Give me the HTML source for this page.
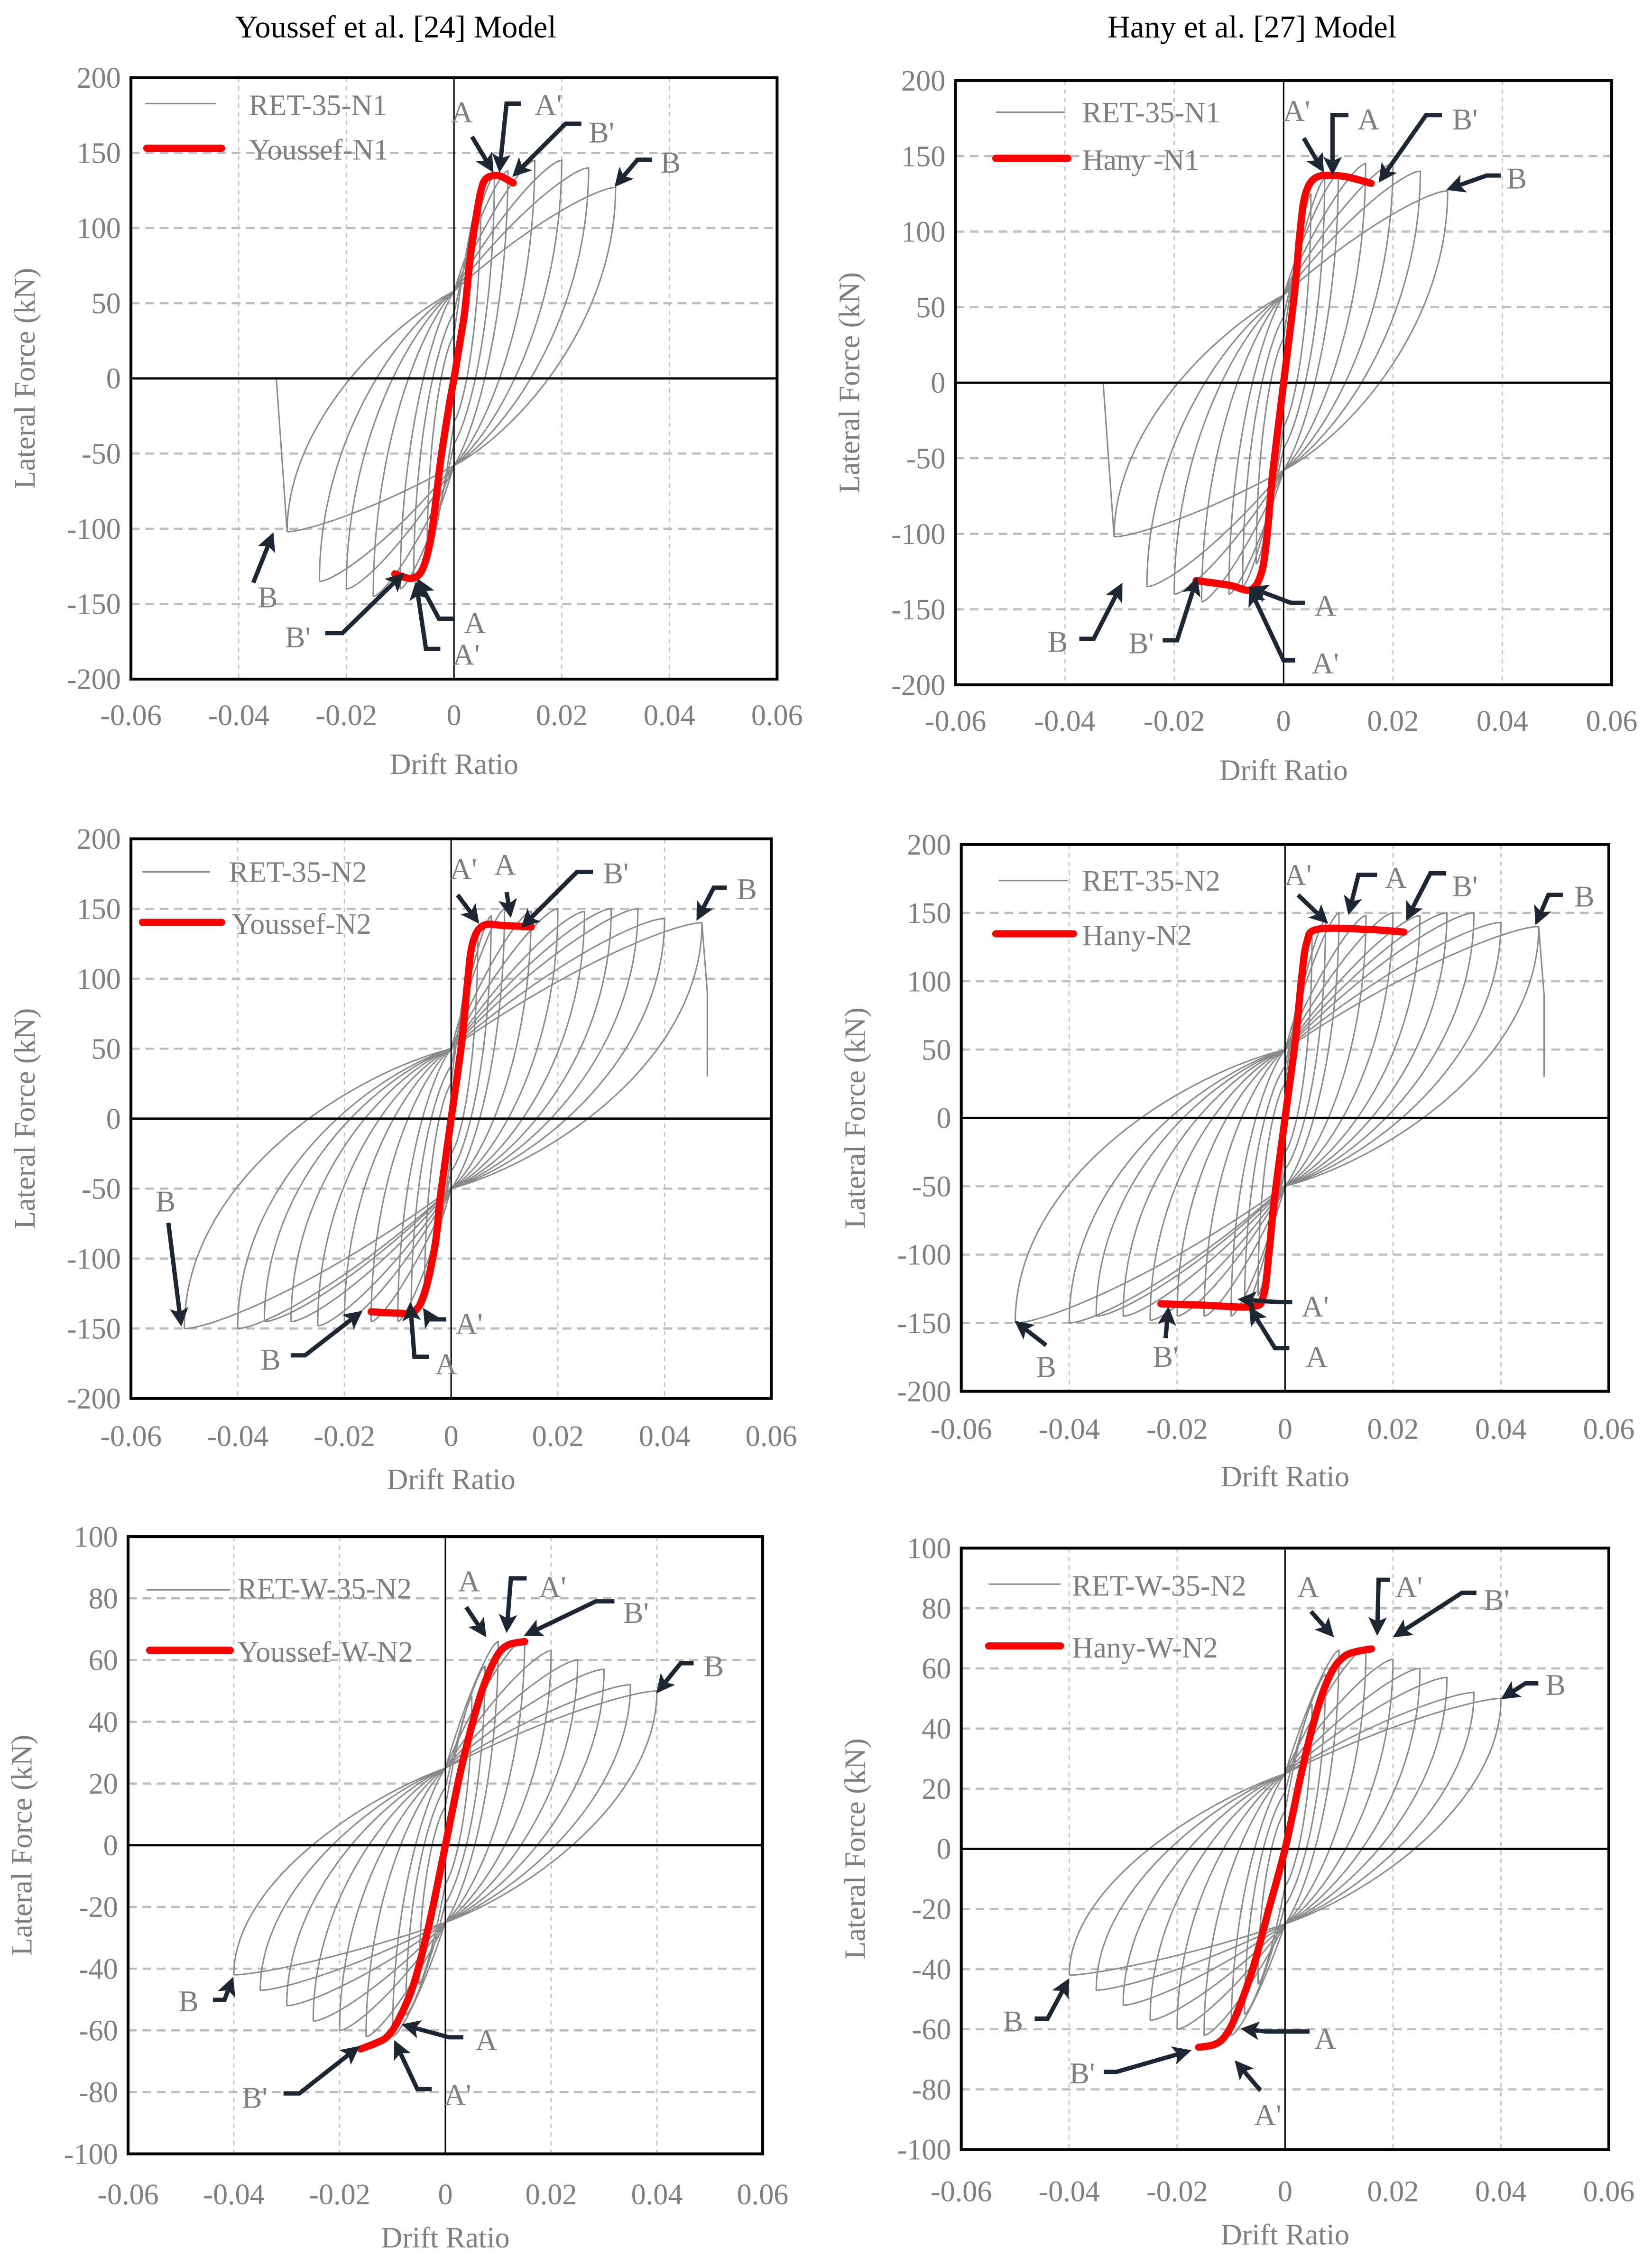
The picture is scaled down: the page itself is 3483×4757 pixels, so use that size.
<!DOCTYPE html>
<html><head><meta charset="utf-8">
<style>
html,body{margin:0;padding:0;background:#fff;}
svg{display:block;}
text{font-family:"Liberation Serif",serif;}
</style></head>
<body>
<svg id="fig" width="3483" height="4757" viewBox="0 0 1148 1568" preserveAspectRatio="none" xmlns="http://www.w3.org/2000/svg">
<text x="275" y="26" font-size="22" text-anchor="middle" fill="#000">Youssef et al. [24] Model</text>
<text x="870" y="26" font-size="22" text-anchor="middle" fill="#000">Hany et al. [27] Model</text>
</svg>
<script>
// ---------- data ----------
const n1PosDrift=[0.005,0.0075,0.01,0.015,0.02,0.025,0.03];
const n1PosForce=[125,135,138,145,145,140,127];
const n1NegDrift=[-0.005,-0.0075,-0.01,-0.015,-0.02,-0.025,-0.031];
const n1NegForce=[-120,-135,-140,-145,-140,-135,-102];
const n1TailDrift=[-0.031,-0.033];
const n1TailForce=[-102,0];
const n2PosDrift=[0.005,0.0075,0.01,0.015,0.02,0.025,0.03,0.035,0.04,0.047];
const n2PosForce=[135,145,150,148,150,148,150,150,143,140];
const n2NegDrift=[-0.005,-0.0075,-0.01,-0.015,-0.02,-0.025,-0.03,-0.035,-0.04,-0.05];
const n2NegForce=[-130,-140,-145,-145,-145,-148,-145,-145,-150,-150];
const n2TailDrift=[0.047,0.048,0.048];
const n2TailForce=[140,90,30];
const wPosDrift=[0.005,0.0075,0.01,0.015,0.02,0.025,0.03,0.035,0.04];
const wPosForce=[48,58,66,67,63,60,57,52,50];
const wNegDrift=[-0.005,-0.0075,-0.01,-0.015,-0.02,-0.025,-0.03,-0.035,-0.04];
const wNegForce=[-45,-55,-62,-62,-60,-57,-52,-47,-42];
const youssefN1Drift=[-0.011,-0.008,-0.006,-0.0045,-0.0035,-0.0025,-0.001,0,0.001,0.002,0.003,0.004,0.005,0.006,0.008,0.0095,0.011];
const youssefN1Force=[-130,-133,-128,-110,-85,-55,-20,0,22,45,80,105,125,133,135,133,130];
const hanyN1Drift=[-0.016,-0.01,-0.006,-0.004,-0.003,-0.002,0,0.002,0.003,0.004,0.006,0.01,0.013,0.016];
const hanyN1Force=[-131,-134,-137,-125,-100,-60,0,60,100,125,136,137,135,132];
const youssefN2Drift=[-0.015,-0.01,-0.007,-0.005,-0.003,-0.002,0,0.002,0.003,0.004,0.006,0.01,0.015];
const youssefN2Force=[-138,-139,-138,-125,-90,-55,0,55,95,125,138,138,137];
const hanyN2Drift=[-0.023,-0.015,-0.006,-0.004,-0.003,-0.002,0,0.002,0.003,0.004,0.006,0.015,0.022];
const hanyN2Force=[-136,-137,-138,-130,-100,-60,0,60,100,128,138,138,136];
const youssefWDrift=[-0.016,-0.013,-0.011,-0.009,-0.006,-0.003,0,0.003,0.006,0.008,0.01,0.012,0.015];
const youssefWForce=[-66,-64,-62,-57,-45,-25,0,25,45,55,62,65,66];
const hanyWDrift=[-0.016,-0.013,-0.011,-0.009,-0.006,-0.003,0,0.003,0.005,0.007,0.009,0.011,0.013,0.016];
const hanyWForce=[-66,-65,-62,-55,-40,-20,0,25,40,52,60,64,65.5,66.5];
const xTicks=[-0.06,-0.04,-0.02,0,0.02,0.04,0.06];
const yTicksN=[-200,-150,-100,-50,0,50,100,150,200];
const yTicksW=[-100,-80,-60,-40,-20,0,20,40,60,80,100];

const NS='http://www.w3.org/2000/svg';
const svg=document.getElementById('fig');
function mk(tag,attrs,parent){const e=document.createElementNS(NS,tag);for(const k in attrs)e.setAttribute(k,attrs[k]);(parent||svg).appendChild(e);return e;}
function smooth(pts){
  let d=`M${pts[0][0]},${pts[0][1]}`;
  for(let i=0;i<pts.length-1;i++){
    const p0=pts[Math.max(0,i-1)],p1=pts[i],p2=pts[i+1],p3=pts[Math.min(pts.length-1,i+2)];
    const c1=[p1[0]+(p2[0]-p0[0])/6,p1[1]+(p2[1]-p0[1])/6];
    const c2=[p2[0]-(p3[0]-p1[0])/6,p2[1]-(p3[1]-p1[1])/6];
    d+=` C${c1[0]},${c1[1]} ${c2[0]},${c2[1]} ${p2[0]},${p2[1]}`;
  }
  return d;
}

const panels=[
 {id:'p1',L:91,R:540,T:54,B:472,ymin:-200,ymax:200,yt:yTicksN,xlab:497,xtitle:531,
  pd:n1PosDrift,pf:n1PosForce,nd:n1NegDrift,nf:n1NegForce,pinch:58,td:n1TailDrift,tf:n1TailForce,
  md:youssefN1Drift,mf:youssefN1Force,g:'RET-35-N1',m:'Youssef-N1',
  lg:[101,150,72,173,79, 102,154,103,173,110],
  ann:[['A',321,78,[[328,95],[343,120]]],["A'",381,73,[[362,72],[352,72],[347,120]]],["B'",418,92,[[404,86],[393,86],[356,123]]],['B',466,113,[[453,111],[443,111],[427,130]]],
   ['B',186,415,[[176,405],[190,370]]],["B'",207,443,[[226,440],[238,440],[281,398]]],['A',330,433,[[316,430],[305,430],[290,402]]],["A'",324,455,[[306,451],[296,451],[289,404]]]]},
 {id:'p2',L:664,R:1120,T:56,B:476,ymin:-200,ymax:200,yt:yTicksN,xlab:501,xtitle:535,
  pd:n1PosDrift,pf:n1PosForce,nd:n1NegDrift,nf:n1NegForce,pinch:58,td:n1TailDrift,tf:n1TailForce,
  md:hanyN1Drift,mf:hanyN1Force,g:'RET-35-N1',m:'Hany -N1',
  lg:[692,740,78,752,84, 692,742,110,752,117],
  ann:[["A'",901,77,[[906,96],[920,120]]],['A',951,83,[[937,80],[926,80],[926,122]]],["B'",1018,83,[[1002,80],[991,80],[958,127]]],['B',1054,124,[[1043,122],[1033,122],[1005,132]]],
   ['B',735,446,[[750,444],[760,444],[780,405]]],["B'",793,447,[[808,445],[818,445],[832,401]]],['A',921,421,[[907,419],[897,419],[868,408]]],["A'",921,461,[[900,459],[892,459],[868,408]]]]},
 {id:'p3',L:91,R:536,T:583,B:972,ymin:-200,ymax:200,yt:yTicksN,xlab:998,xtitle:1028,
  pd:n2PosDrift,pf:n2PosForce,nd:n2NegDrift,nf:n2NegForce,pinch:50,td:n2TailDrift,tf:n2TailForce,
  md:youssefN2Drift,mf:youssefN2Force,g:'RET-35-N2',m:'Youssef-N2',
  lg:[99,146,606,159,612, 99,154,641,161,648],
  ann:[["A'",322,604,[[318,622],[333,642]]],['A',351,601,[[352,620],[355,638]]],["B'",428,607,[[412,606],[401,606],[362,645]]],['B',519,618,[[505,617],[496,617],[484,640]]],
   ['B',115,835,[[117,850],[126,922]]],['B',188,945,[[202,942],[212,942],[252,911]]],['A',310,948,[[298,943],[288,943],[285,905]]],["A'",326,920,[[310,917],[299,917],[294,909]]]]},
 {id:'p4',L:668,R:1118,T:587,B:967,ymin:-200,ymax:200,yt:yTicksN,xlab:993,xtitle:1026,
  pd:n2PosDrift,pf:n2PosForce,nd:n2NegDrift,nf:n2NegForce,pinch:50,td:n2TailDrift,tf:n2TailForce,
  md:hanyN2Drift,mf:hanyN2Force,g:'RET-35-N2',m:'Hany-N2',
  lg:[694,742,612,752,618, 692,746,649,752,656],
  ann:[["A'",902,608,[[902,622],[923,642]]],['A',970,610,[[957,608],[944,608],[937,636]]],["B'",1018,616,[[1005,607],[994,607],[977,640]]],['B',1101,623,[[1086,622],[1076,622],[1067,643]]],
   ['B',727,950,[[727,935],[705,918]]],["B'",810,943,[[810,930],[812,908]]],['A',915,943,[[896,937],[886,937],[868,908]]],["A'",914,908,[[898,905],[888,905],[860,903]]]]},
 {id:'p5',L:89,R:530,T:1068,B:1497,ymin:-100,ymax:100,yt:yTicksW,xlab:1525,xtitle:1555,
  pd:wPosDrift,pf:wPosForce,nd:wNegDrift,nf:wNegForce,pinch:25,td:null,tf:null,
  md:youssefWDrift,mf:youssefWForce,g:'RET-W-35-N2',m:'Youssef-W-N2',
  lg:[102,160,1105,165,1110, 104,160,1147,165,1154],
  ann:[['A',326,1099,[[324,1117],[338,1138]]],["A'",384,1103,[[366,1097],[355,1097],[352,1135]]],["B'",442,1121,[[427,1113],[414,1113],[364,1137]]],['B',496,1158,[[482,1156],[473,1156],[456,1177]]],
   ['B',131,1391,[[148,1390],[156,1390],[162,1374]]],["B'",177,1458,[[197,1455],[208,1455],[250,1422]]],['A',338,1418,[[322,1416],[312,1416],[279,1407]]],["A'",318,1456,[[300,1452],[290,1452],[274,1418]]]]},
 {id:'p6',L:668,R:1118,T:1076,B:1494,ymin:-100,ymax:100,yt:yTicksW,xlab:1523,xtitle:1553,
  pd:wPosDrift,pf:wPosForce,nd:wNegDrift,nf:wNegForce,pinch:25,td:null,tf:null,
  md:hanyWDrift,mf:hanyWForce,g:'RET-W-35-N2',m:'Hany-W-N2',
  lg:[687,737,1101,745,1108, 687,737,1144,745,1151],
  ann:[['A',909,1103,[[911,1120],[927,1138]]],["A'",979,1103,[[966,1098],[958,1098],[957,1137]]],["B'",1040,1112,[[1026,1107],[1016,1107],[968,1138]]],['B',1081,1171,[[1069,1170],[1060,1170],[1043,1181]]],
   ['B',704,1405,[[719,1403],[728,1403],[743,1375]]],["B'",752,1441,[[767,1440],[776,1440],[828,1425]]],['A',921,1417,[[910,1412],[880,1412],[862,1410]]],["A'",881,1470,[[876,1453],[858,1432]]]]}
];

panels.forEach(p=>{
  const sx=d=>p.L+(d+0.06)/0.12*(p.R-p.L);
  const sy=f=>p.B-(f-p.ymin)/(p.ymax-p.ymin)*(p.B-p.T);
  const g=mk('g',{});
  
  
  xTicks.forEach(t=>{if(t===0||Math.abs(t)===0.06)return;
    const l=mk('line',{x1:sx(t),x2:sx(t),y1:p.T,y2:p.B,stroke:'#c4c4c4','stroke-width':0.9,'stroke-dasharray':'3,3'},g);
    });
  p.yt.forEach(t=>{if(t===0||t===p.ymin||t===p.ymax)return;
    const l=mk('line',{x1:p.L,x2:p.R,y1:sy(t),y2:sy(t),stroke:'#bdbdbd','stroke-width':1.5,'stroke-dasharray':'6,4'},g);
    });
  xTicks.forEach(t=>{const e=mk('text',{x:sx(t),y:p.xlab+7,'font-size':20.5,fill:'#7f7f7f','text-anchor':'middle'},g);e.textContent=t===0?'0':String(t);
    });
  p.yt.forEach(t=>{const e=mk('text',{x:p.L-7,y:sy(t)+7,'font-size':20.5,fill:'#7f7f7f','text-anchor':'end'},g);e.textContent=String(t);
    });
  const xt=mk('text',{x:(p.L+p.R)/2,y:p.xtitle+7,'font-size':20.5,fill:'#7f7f7f','text-anchor':'middle'},g);xt.textContent='Drift Ratio';
  
  const yc=(p.T+p.B)/2,yx=p.L-67;
  const yt=mk('text',{x:yx,y:yc,'font-size':20.5,fill:'#7f7f7f','text-anchor':'middle',transform:`rotate(-90 ${yx} ${yc})`},g);yt.textContent='Lateral Force (kN)';
  
  let dstr='';
  const P=p.pinch;
  for(let i=0;i<p.pd.length;i++){
    const dp=p.pd[i],fp=p.pf[i],dn=p.nd[i],fn=p.nf[i];
    const pi=P*Math.min(1,(i+2)/4);
    dstr+=`M${sx(dn)},${sy(fn)} C${sx(dn)},${sy(fn*0.3)} ${sx(dn*0.4)},${sy(pi*0.6)} ${sx(0)},${sy(pi)} `+
          `C${sx(dp*0.5)},${sy(pi+(fp-pi)*0.7)} ${sx(dp*0.9)},${sy(fp)} ${sx(dp)},${sy(fp)} `+
          `C${sx(dp)},${sy(fp*0.3)} ${sx(dp*0.4)},${sy(-pi*0.6)} ${sx(0)},${sy(-pi)} `+
          `C${sx(dn*0.5)},${sy(-pi+(fn+pi)*0.7)} ${sx(dn*0.9)},${sy(fn)} ${sx(dn)},${sy(fn)} `;
  }
  if(p.td){dstr+='M'+p.td.map((d,i)=>sx(d)+','+sy(p.tf[i])).join(' L');}
  const loops=mk('path',{d:dstr,fill:'none',stroke:'#8a8a8a','stroke-width':1},g);
  
  const zx=mk('line',{x1:sx(0),x2:sx(0),y1:p.T,y2:p.B,stroke:'#000','stroke-width':1},g);
  
  const zy=mk('line',{x1:p.L,x2:p.R,y1:sy(0),y2:sy(0),stroke:'#000','stroke-width':1.6},g);
  
  const box=mk('rect',{x:p.L,y:p.T,width:p.R-p.L,height:p.B-p.T,fill:'none',stroke:'#000','stroke-width':2},g);
  
  const mpts=p.md.map((d,i)=>[sx(d),sy(p.mf[i])]);
  const mc=mk('path',{d:smooth(mpts),fill:'none',stroke:'#ff0000','stroke-width':5,'stroke-linejoin':'round','stroke-linecap':'round'},g);
  
  const q=p.lg;
  const lg=mk('g',{},g);
  mk('line',{x1:q[0],x2:q[1],y1:q[2],y2:q[2],stroke:'#8a8a8a','stroke-width':1},lg);
  const t1=mk('text',{x:q[3],y:q[4]+1,'font-size':20.5,fill:'#7f7f7f'},lg);t1.textContent=p.g;
  
  mk('line',{x1:q[5],x2:q[6],y1:q[7],y2:q[7],stroke:'#ff0000','stroke-width':5,'stroke-linecap':'round'},lg);
  const t2=mk('text',{x:q[8],y:q[9]+1,'font-size':20.5,fill:'#7f7f7f'},lg);t2.textContent=p.m;
  
  p.ann.forEach(a=>{
    const ag=mk('g',{},g);
    const tx=mk('text',{x:a[1],y:a[2]+7,'font-size':21,fill:'#7f7f7f','text-anchor':'middle'},ag);tx.textContent=a[0];
    const pts=a[3];const n=pts.length;
    const [x1,y1]=pts[n-2],[x2,y2]=pts[n-1];
    const ang=Math.atan2(y2-y1,x2-x1),hl=13,hw=6.5;
    const bx=x2-hl*Math.cos(ang),by=y2-hl*Math.sin(ang);
    const linePts=pts.slice(0,n-1).map(s=>s.join(',')).join(' ')+' '+(bx+3*Math.cos(ang))+','+(by+3*Math.sin(ang));
    mk('polyline',{points:linePts,fill:'none',stroke:'#1c2733','stroke-width':3},ag);
    const h=`${x2},${y2} ${bx-hw*Math.sin(ang)},${by+hw*Math.cos(ang)} ${bx+3*Math.cos(ang)},${by+3*Math.sin(ang)} ${bx+hw*Math.sin(ang)},${by-hw*Math.cos(ang)}`;
    mk('polygon',{points:h,fill:'#1c2733'},ag);
  });
});
</script>
</body></html>
